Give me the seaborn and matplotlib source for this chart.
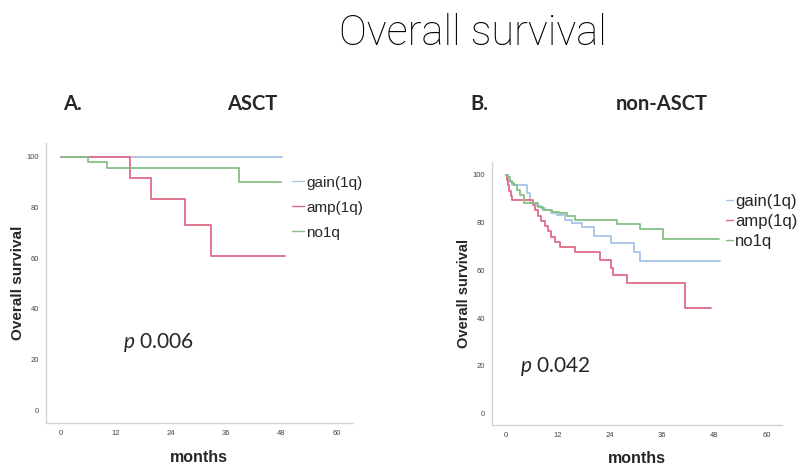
import numpy as np
import pandas as pd
import seaborn as sns
import matplotlib.pyplot as plt

sns.set_style('white')
plt.rcParams['font.family'] = ['Liberation Sans', 'DejaVu Sans']
plt.rcParams['mathtext.fontset'] = 'custom'
plt.rcParams['mathtext.it'] = 'Lato:italic'
plt.rcParams['mathtext.rm'] = 'Lato'

groups = ['gain(1q)', 'amp(1q)', 'no1q']
colors = {'gain(1q)': '#a9c4e6', 'amp(1q)': '#e06a88', 'no1q': '#86c086'}

# ASCT panel (months, survival %)
asct_gain_t = [0, 48.1]
asct_gain_s = [100, 100]
asct_amp_t = [0, 15.0, 19.6, 27.0, 32.6, 48.7]
asct_amp_s = [100, 91.7, 83.4, 73.0, 61.0, 61.0]
asct_no_t = [0, 5.8, 10.0, 38.8, 47.8]
asct_no_s = [100, 97.9, 95.8, 90.2, 90.2]

# non-ASCT panel
non_gain_t = [0, 0.5, 1.0, 1.4, 4.9, 5.6, 7.2, 8.0, 9.0, 10.5, 11.8, 13.7, 15.3,
              17.5, 20.3, 24.1, 29.4, 30.9, 49.4]
non_gain_s = [100, 98.0, 97.0, 95.8, 92.5, 88.2, 87.0, 86.0, 85.2, 84.2, 83.2, 81.1,
              80.0, 78.2, 74.4, 71.3, 67.8, 63.9, 63.9]
non_amp_t = [0, 0.2, 0.5, 0.8, 1.1, 1.5, 6.2, 6.8, 7.4, 8.2, 8.9, 9.7, 10.5, 11.3,
             12.4, 16.0, 21.7, 24.3, 24.6, 27.8, 41.3, 47.3]
non_amp_s = [100, 97.8, 95.6, 93.4, 91.2, 89.5, 87.3, 85.1, 82.9, 80.7, 78.5, 76.3,
             74.1, 71.9, 69.8, 67.5, 64.3, 60.8, 58.0, 54.8, 44.0, 44.0]
non_no_t = [0, 0.6, 1.0, 1.4, 1.8, 2.5, 3.3, 4.1, 7.4, 8.5, 10.6, 12.2, 14.1, 16.0,
            25.5, 30.8, 36.2, 49.0]
non_no_s = [100, 99.0, 97.6, 96.7, 95.8, 93.7, 91.6, 88.4, 86.6, 85.3, 84.6, 83.9,
            82.8, 81.2, 79.4, 77.5, 73.1, 73.1]

xticks = [0, 12, 24, 36, 48, 60]
yticks = [0, 20, 40, 60, 80, 100]


def make_df(curves):
    rows = []
    for g, (t, s) in zip(groups, curves):
        for a, b in zip(t, s):
            rows.append({'months': a, 'survival': b, 'group': g})
    return pd.DataFrame(rows)


def km_panel(ax, df, ptext, pxy, ylab_size, xpad, leg_anchor, leg_size, leg_space, hlen):
    sns.lineplot(data=df, x='months', y='survival', hue='group', hue_order=groups,
                 palette=colors, drawstyle='steps-post', estimator=None,
                 linewidth=1.3, ax=ax)
    ax.set_xlim(-3.25, 63.5)
    ax.set_ylim(-5, 105.5)
    ax.set_xticks(xticks)
    ax.set_yticks(yticks)
    ax.set_xticklabels([str(v) for v in xticks], fontsize=5.5, color='#444444')
    ax.set_yticklabels([str(v) for v in yticks], fontsize=5.5, color='#444444')
    ax.tick_params(length=0, pad=5)
    for side in ['top', 'right']:
        ax.spines[side].set_visible(False)
    for side in ['left', 'bottom']:
        ax.spines[side].set_color('#d4d4d4')
        ax.spines[side].set_linewidth(1.0)
    ax.set_xlabel('months', fontsize=11.5, weight='bold', labelpad=xpad)
    ax.set_ylabel('Overall survival', fontsize=ylab_size, weight='bold', labelpad=1)
    ax.text(pxy[0], pxy[1], ptext, fontsize=15, family='Lato', va='center')
    leg = ax.legend(loc='upper left', bbox_to_anchor=leg_anchor, frameon=False,
                    handlelength=hlen, handletextpad=0.12, labelspacing=leg_space,
                    prop={'size': leg_size}, borderaxespad=0)
    for h in leg.get_lines():
        h.set_linewidth(1.0)


fig = plt.figure(figsize=(8.01, 4.66), dpi=100)
ax1 = fig.add_axes([0.0574, 0.093, 0.383, 0.600])
ax2 = fig.add_axes([0.6139, 0.087, 0.362, 0.566])

km_panel(ax1, make_df([(asct_gain_t, asct_gain_s), (asct_amp_t, asct_amp_s),
                       (asct_no_t, asct_no_s)]),
         r'$\mathit{p}$ 0.006', (13.4, 26.5), 11, 10, (0.782, 0.905), 11, 0.72, 0.8)
km_panel(ax2, make_df([(non_gain_t, non_gain_s), (non_amp_t, non_amp_s),
                       (non_no_t, non_no_s)]),
         r'$\mathit{p}$ 0.042', (3.3, 19.5), 10.5, 8, (0.786, 0.902), 12, 0.3, 0.4)

fig.text(0.5905, 0.929, 'Overall survival', fontsize=30, family=['Roboto', 'Lato'],
         weight='light', color='black', ha='center', va='center')
for x, s in [(0.079, 'A.'), (0.315, 'ASCT'), (0.587, 'B.'), (0.826, 'non-ASCT')]:
    fig.text(x, 0.776, s, fontsize=14.5, family='Lato', weight='bold',
             ha='left' if len(s) == 2 else 'center', va='center')

fig.savefig('out.png', dpi=100)
